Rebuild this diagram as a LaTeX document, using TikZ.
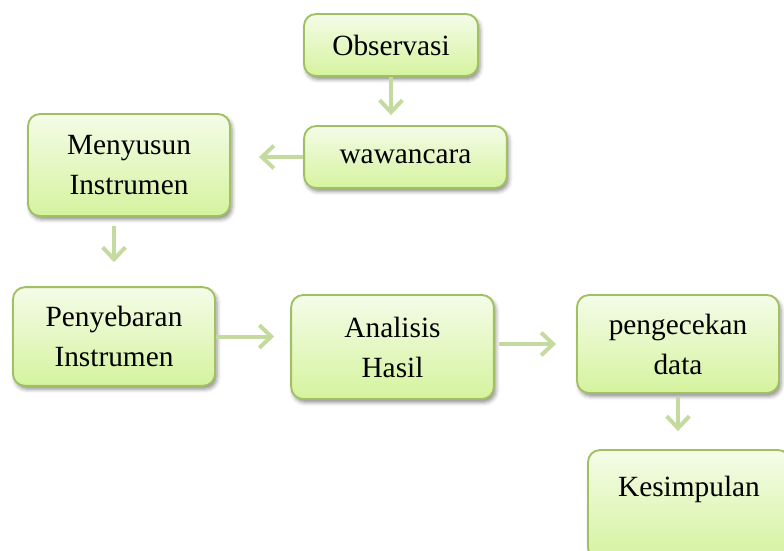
\documentclass[tikz,border=0pt]{standalone}
\usepackage{fontspec}
\setmainfont{Liberation Serif}
\usetikzlibrary{arrows.meta,shadows.blur}
\definecolor{boxline}{HTML}{A0C062}
\definecolor{boxtop}{HTML}{F4FCE8}
\definecolor{boxbot}{HTML}{D5F39E}
\definecolor{arrline}{HTML}{C4DA9F}

\begin{document}
\begin{tikzpicture}[x=0.75pt,y=-0.75pt,
 box/.style={draw=boxline,line width=1.4pt,top color=boxtop,bottom color=boxbot,
 rounded corners=9pt,minimum width=151.5pt,minimum height=75pt,inner sep=0pt,
 align=center,font=\fontsize{22}{30}\selectfont,
 blur shadow={shadow xshift=1.5pt,shadow yshift=-2.5pt,shadow blur radius=3pt,shadow opacity=45}},
 arr/.style={-{Straight Barb[length=9pt,width=17pt]},line width=3pt,draw=arrline}]
\clip (0,0) rectangle (784,550);
\node[box,minimum width=130.5pt,minimum height=46.5pt] (obs) at (391,45) {Observasi};
\node[box,minimum width=152pt,minimum height=46.5pt] (waw) at (405.5,157) {wawancara};
\node[box,minimum height=76.5pt] (meny) at (129,165) {Menyusun\\Instrumen};
\node[box,minimum height=74pt] (peny) at (114,336.5) {Penyebaran\\Instrumen};
\node[box,minimum width=152pt,minimum height=78pt] (anal) at (392.5,347) {Analisis\\Hasil};
\node[box,minimum height=73.5pt] (peng) at (678,344) {pengecekan\\data};
\node[box,minimum height=82pt,text height=35pt,text depth=47pt] (kes) at (689,504.7) {Kesimpulan};
\draw[arr,shorten >=7.5pt] (obs.south) -- (obs.south |- waw.north);
\draw[arr,shorten >=21pt] (waw.west) -- (waw.west -| meny.east);
\draw[arr,shorten <=7pt,shorten >=18pt] (peny.north |- meny.south) -- (peny.north);
\draw[arr,shorten >=12pt] (peny.east) -- (peny.east -| anal.west);
\draw[arr,shorten <=3pt,shorten >=15pt] (peng.west -| anal.east) -- (peng.west);
\draw[arr,shorten <=2pt,shorten >=13.5pt] (peng.south) -- (peng.south |- kes.north);
\end{tikzpicture}
\end{document}
